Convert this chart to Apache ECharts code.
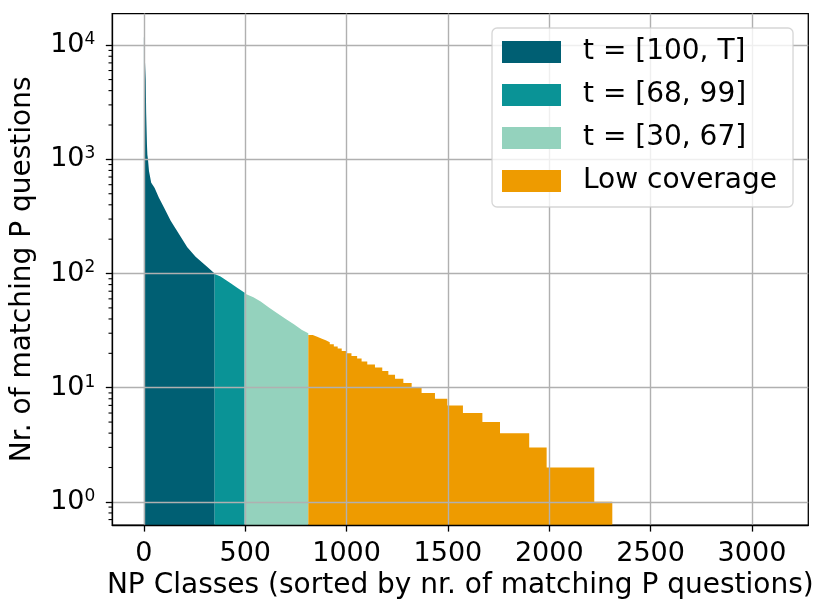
<!DOCTYPE html>
<html><head><meta charset="utf-8">
<script src="https://cdn.jsdelivr.net/npm/echarts@6/dist/echarts.min.js"></script>
<style>html,body{margin:0;padding:0;background:#fff}#c{width:822px;height:605px}</style>
</head><body><div id="c"></div>
<script>
// ---- data ----
const xTicks = [0, 500, 1000, 1500, 2000, 2500, 3000];
const yTicks = [1, 10, 100, 1000, 10000];
const yMinorTicks = [0.7, 0.8, 0.9, 2, 3, 4, 5, 6, 7, 8, 9, 20, 30, 40, 50, 60, 70, 80, 90,
  200, 300, 400, 500, 600, 700, 800, 900, 2000, 3000, 4000, 5000, 6000, 7000, 8000, 9000];
const seriesNames = ['t = [100, T]', 't = [68, 99]', 't = [30, 67]', 'Low coverage'];
const seriesColors = ['#005f73', '#0a9396', '#94d2bd', '#ee9b00'];

const highRanks  = [0, 7, 9, 11, 13, 15, 17, 20, 25, 36, 45, 53, 74, 99, 132, 173, 214, 255, 313, 349];
const highCounts = [11970, 11700, 5000, 2600, 1870, 1350, 1100, 1000, 790, 625, 590, 560, 462, 379, 290, 222, 170, 140, 114, 100];
const midRanks   = [349, 378, 428, 460, 497];
const midCounts  = [99, 94, 82, 75, 68];
const lowRanks   = [497, 540, 576, 620, 658, 700, 740, 780, 811];
const lowCounts  = [67, 62, 57, 50, 45, 40, 36, 32, 30];
const poorRanks  = [811, 833, 855, 875, 897, 917, 937, 956, 976, 998, 1024, 1052, 1074, 1102, 1140,
  1176, 1206, 1239, 1280, 1321, 1370, 1436, 1497, 1574, 1670, 1757, 1901, 1987, 2222, 2311];
const poorCounts = [29, 28, 27, 26, 25, 24, 23, 22, 21, 20, 19, 18, 17, 16, 15,
  14, 13, 12, 11, 10, 9, 8, 7, 6, 5, 4, 3, 2, 1, 1];

const zip = (a, b) => a.map((v, i) => [v, b[i]]);
const FONT = 'DejaVu Sans';
const X_MIN = -156, X_MAX = 3278, Y_MIN = 0.626, Y_MAX = 18910;

function areaSeries(i, data, step) {
  return {
    name: seriesNames[i], type: 'line', data: data, step: step || false,
    showSymbol: false, symbol: 'none', silent: true,
    color: seriesColors[i],
    itemStyle: { color: seriesColors[i] },
    lineStyle: { width: 0, color: seriesColors[i] },
    areaStyle: { color: seriesColors[i], opacity: 1, origin: 'start' },
    z: 2
  };
}

const chart = echarts.init(document.getElementById('c'), null, { renderer: 'canvas' });
chart.setOption({
  animation: false,
  backgroundColor: '#fff',
  textStyle: { fontFamily: FONT },
  grid: { left: 112.3, top: 13.6, width: 696, height: 517, show: true,
          borderColor: '#000', borderWidth: 1.3, backgroundColor: 'transparent' },
  legend: {
    data: seriesNames, orient: 'vertical', left: 492, top: 28,
    icon: 'rect', itemWidth: 59, itemHeight: 22, itemGap: 15,
    padding: [10, 16, 12, 10],
    backgroundColor: 'rgba(255,255,255,0.8)', borderColor: 'rgba(204,204,204,0.8)',
    borderWidth: 1.3, borderRadius: 5,
    itemStyle: { borderWidth: 0 },
    textStyle: { fontFamily: FONT, fontSize: 28, color: '#000', padding: [0, 0, 0, 17] },
    selectedMode: false
  },
  xAxis: {
    type: 'value', min: X_MIN, max: X_MAX, z: 3,
    name: 'NP Classes (sorted by nr. of matching P questions)', nameLocation: 'middle', nameGap: 40,
    nameTextStyle: { fontFamily: FONT, fontSize: 28, color: '#000' },
    axisLine: { show: true, onZero: false, lineStyle: { color: '#000', width: 1.3 } },
    axisTick: { show: true, length: 6.5, inside: false, customValues: xTicks, lineStyle: { color: '#000', width: 1.3 } },
    axisLabel: { customValues: xTicks, margin: 15, fontFamily: FONT, fontSize: 27, color: '#000',
                 formatter: function (v) { return String(v); } },
    splitLine: { show: true, lineStyle: { color: '#b0b0b0', width: 1.4 } }
  },
  yAxis: {
    type: 'log', logBase: 10, min: Y_MIN, max: Y_MAX, z: 3,
    name: 'Nr. of matching P questions', nameLocation: 'middle', nameGap: 76,
    nameTextStyle: { fontFamily: FONT, fontSize: 28, color: '#000' },
    axisLine: { show: true, onZero: false, lineStyle: { color: '#000', width: 1.3 } },
    axisTick: { show: true, length: 6.5, customValues: yTicks, lineStyle: { color: '#000', width: 1.3 } },
    axisLabel: {
      customValues: yTicks, margin: 17, color: '#000',
      formatter: function (v) {
        const e = Math.round(Math.log10(v));
        return '{b|10}{s|' + e + '}';
      },
      rich: {
        b: { fontFamily: FONT, fontSize: 27, lineHeight: 28, color: '#000' },
        s: { fontFamily: FONT, fontSize: 17, lineHeight: 18, verticalAlign: 'top', color: '#000' }
      }
    },
    splitLine: { show: true, lineStyle: { color: '#b0b0b0', width: 1.4 } }
  },
  series: [
    areaSeries(0, zip(highRanks, highCounts)),
    areaSeries(1, zip(midRanks, midCounts)),
    areaSeries(2, zip(lowRanks, lowCounts)),
    areaSeries(3, zip(poorRanks, poorCounts), 'end')
  ]
});

// minor log ticks on the y axis, positioned through the chart's own y scale
const minorTickElements = yMinorTicks.map(function (v) {
  const p = chart.convertToPixel({ xAxisIndex: 0, yAxisIndex: 0 }, [X_MIN, v]);
  return {
    type: 'line', silent: true, z: 100,
    shape: { x1: p[0] - 3.8, y1: p[1], x2: p[0], y2: p[1] },
    style: { stroke: '#000', lineWidth: 1.1 }
  };
});
chart.setOption({ graphic: { elements: minorTickElements } });
</script></body></html>
